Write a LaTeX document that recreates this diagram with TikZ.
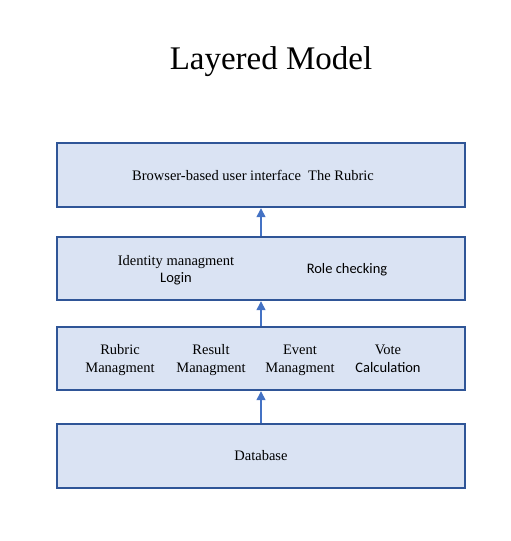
\documentclass[tikz,border=0pt]{standalone}
\usepackage{fontspec}
\setmainfont{Liberation Serif}
\newfontfamily\calib{Carlito}
\usetikzlibrary{arrows.meta}
\definecolor{layerfill}{HTML}{DAE3F3}
\definecolor{layerline}{HTML}{2F5597}
\definecolor{arrowblue}{HTML}{4472C4}

\begin{document}
\begin{tikzpicture}[x=1pt, y=-1pt, thick,
    layer/.style={draw=layerline, fill=layerfill, line width=2.4pt},
    lbl/.style={anchor=base, inner sep=0pt, font=\fontsize{14.5}{18}\selectfont},
    up/.style={draw=arrowblue, line width=1.4pt, -{Triangle[length=9pt,width=9pt]}}]
    \useasboundingbox (0,0) rectangle (511,541);
    \node[anchor = base, inner sep=0pt, font=\fontsize{33}{36}\selectfont] (title) at (271,69) {Layered Model};
    % layers
    \node[layer, minimum width=408pt, minimum height=64pt] (ui) at (261,175) {};
    \node[layer, minimum width=408pt, minimum height=63pt] (auth) at (261,268.5) {};
    \node[layer, minimum width=408pt, minimum height=63pt] (logic) at (261,358.5) {};
    \node[layer, minimum width=408pt, minimum height=64pt] (db) at (261,456) {};
    % texts
    \node[lbl] (uitext) at (253,180) {Browser-based user interface\ \ The Rubric};
    \node[lbl] (ident) at (176,265) {Identity managment};
    \node[lbl] (login) at (176,282) {\calib Login};
    \node[lbl] (role) at (347,273) {\calib Role checking};
    \node[lbl] (rubric) at (120,354) {Rubric};
    \node[lbl] (rubricb) at (120,372) {Managment};
    \node[lbl] (result) at (211,354) {Result};
    \node[lbl] (resultb) at (211,372) {Managment};
    \node[lbl] (event) at (300,354) {Event};
    \node[lbl] (eventb) at (300,372) {Managment};
    \node[lbl] (vote) at (388,354) {Vote};
    \node[lbl] (voteb) at (388,372) {\calib Calculation};
    \node[lbl] (dbtext) at (261,460) {Database};
    % arrows
    \draw[up] (db.north) -- (logic.south);
    \draw[up] (logic.north) -- (auth.south);
    \draw[up] (auth.north) -- (ui.south);
\end{tikzpicture}
\end{document}
